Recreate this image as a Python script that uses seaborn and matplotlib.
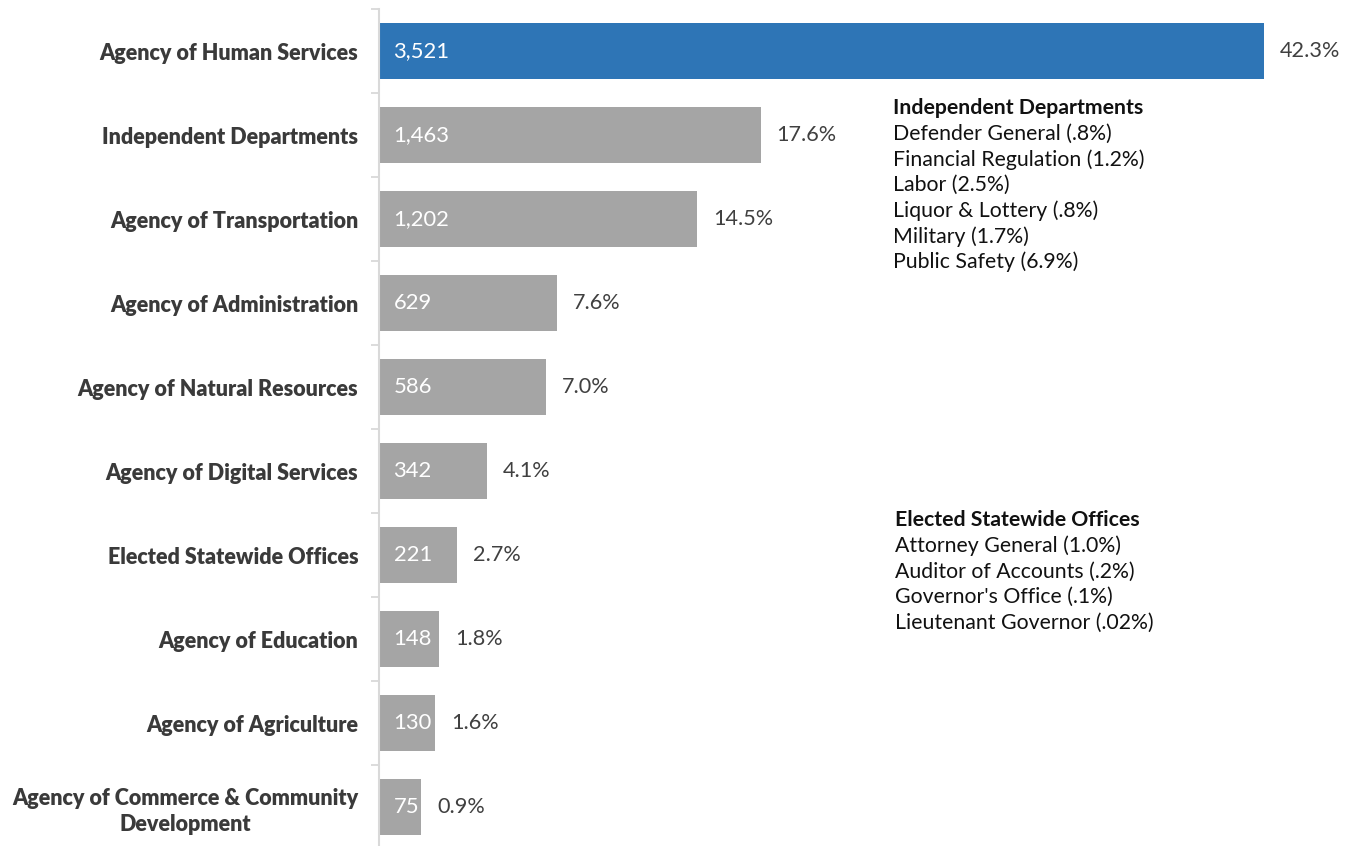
import matplotlib
matplotlib.use("Agg")
import matplotlib.pyplot as plt
import seaborn as sns
import pandas as pd

categories = [
    "Agency of Human Services",
    "Independent Departments",
    "Agency of Transportation",
    "Agency of Administration",
    "Agency of Natural Resources",
    "Agency of Digital Services",
    "Elected Statewide Offices",
    "Agency of Education",
    "Agency of Agriculture",
    "Agency of Commerce & Community\nDevelopment",
]
counts = [3521, 1463, 1202, 629, 586, 342, 221, 148, 130, 75]
shares = ["42.3%", "17.6%", "14.5%", "7.6%", "7.0%", "4.1%", "2.7%", "1.8%", "1.6%", "0.9%"]

indep_title = "Independent Departments"
indep_items = ["Defender General (.8%)", "Financial Regulation (1.2%)", "Labor (2.5%)",
               "Liquor & Lottery (.8%)", "Military (1.7%)", "Public Safety (6.9%)"]
elected_title = "Elected Statewide Offices"
elected_items = ["Attorney General (1.0%)", "Auditor of Accounts (.2%)",
                 "Governor's Office (.1%)", "Lieutenant Governor (.02%)"]

sns.set_theme(style="white")
plt.rcParams["font.family"] = ["Lato", "DejaVu Sans"]

W, H = 1356, 846
fig = plt.figure(figsize=(W / 100, H / 100), dpi=100)
# axes: left edge at x=379 px, top at y=9 px, bottom at y=849 px
ax = fig.add_axes([379 / W, (H - 849) / H, (W - 379) / W, 840 / H])

df = pd.DataFrame({"cat": categories, "count": counts})
palette = ["#2E75B6"] + ["#A5A5A5"] * (len(categories) - 1)
sns.barplot(data=df, x="count", y="cat", hue="cat", palette=palette,
            legend=False, ax=ax, width=0.67, saturation=1, edgecolor="none")

BASE = -98  # the axis starts a little left of zero; bars start at the axis
for p in ax.patches:
    w = p.get_width()
    p.set_x(BASE)
    p.set_width(w - BASE)

ax.set_xlim(BASE, 3899)
ax.set_ylim(len(categories) - 0.5, -0.5)

# labels
for i, (p, c, s) in enumerate(zip(ax.patches, counts, shares)):
    yc = p.get_y() + p.get_height() / 2
    ax.annotate(f"{c:,}", (BASE, yc), xytext=(10.5, 0), textcoords="offset points",
                ha="left", va="center", color="white", fontsize=15.8)
    ax.annotate(s, (p.get_x() + p.get_width(), yc), xytext=(11.5, 0),
                textcoords="offset points", ha="left", va="center",
                color="#404040", fontsize=15.6)

ax.set_xlabel("")
ax.set_ylabel("")
ax.set_xticks([])
# ticks at category boundaries, labels at centers
ax.set_yticks(range(len(categories)))
ax.set_yticklabels(categories, fontsize=15.5, fontweight="heavy", color="#3A3A3A")
for lab in ax.get_yticklabels():
    lab.set_multialignment("center")
    lab.set_linespacing(1.3)
ax.tick_params(axis="y", which="major", left=False, length=0, pad=15)
ax.set_yticks([i - 0.5 for i in range(len(categories) + 1)], minor=True)
ax.tick_params(axis="y", which="minor", left=True, length=6, width=1.3,
               color="#D9D9D9", direction="out")

for side in ["top", "right", "bottom"]:
    ax.spines[side].set_visible(False)
ax.spines["left"].set_color("#D9D9D9")
ax.spines["left"].set_linewidth(1.5)

# side notes
def block(x, y0, title, items):
    fig.text(x / W, 1 - y0 / H, title, fontsize=15.3, fontweight="bold",
             color="#111111", va="center", ha="left")
    for k, t in enumerate(items):
        fig.text(x / W, 1 - (y0 + 25.7 * (k + 1)) / H, t, fontsize=15.3,
                 color="#111111", va="center", ha="left")

block(893, 108, indep_title, indep_items)
block(895, 520, elected_title, elected_items)

fig.savefig("out.png", dpi=100)
